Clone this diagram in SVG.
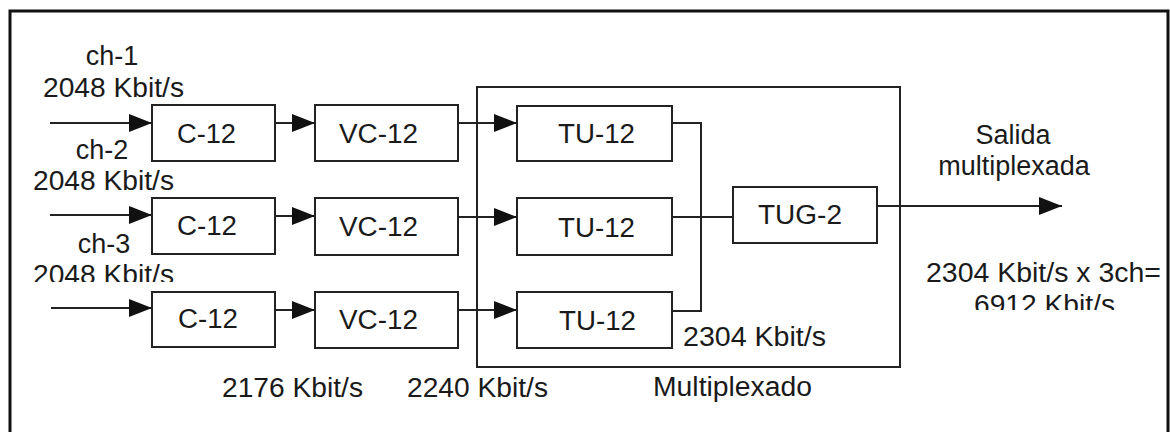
<svg xmlns="http://www.w3.org/2000/svg" width="1170" height="432" viewBox="0 0 1170 432">
<style>
.box{fill:#fff;stroke:#222;stroke-width:2}
.grp{fill:none;stroke:#222;stroke-width:2}
.ln{fill:none;stroke:#222;stroke-width:2}
.frame{fill:none;stroke:#111;stroke-width:3}
text{font-family:"Liberation Sans",Arial,sans-serif;font-size:27px;fill:#1a1a1a}
.c{text-anchor:middle}
</style>
<defs>
<marker id="ah" markerUnits="userSpaceOnUse" markerWidth="23" markerHeight="20" refX="23" refY="10" orient="auto">
<path d="M0,1 L23,10 L0,19 z" fill="#111"/>
</marker>
<clipPath id="clip3"><rect x="0" y="0" width="1170" height="282"/></clipPath>
<clipPath id="clipOut"><rect x="0" y="0" width="1170" height="310"/></clipPath>
</defs>
<rect width="1170" height="432" fill="#fff"/>
<path class="frame" d="M10,432 V11 H1168 V432"/>

<g id="multiplexado">
<rect class="grp" x="477" y="87" width="423" height="280"/>
<text x="653" y="396" textLength="159" lengthAdjust="spacingAndGlyphs">Multiplexado</text>
</g>

<g id="connectors">
<line class="ln" x1="50" y1="123" x2="152" y2="123" marker-end="url(#ah)"/>
<line class="ln" x1="50" y1="215" x2="152" y2="215" marker-end="url(#ah)"/>
<line class="ln" x1="51" y1="308" x2="152" y2="308" marker-end="url(#ah)"/>
<line class="ln" x1="275" y1="123" x2="315" y2="123" marker-end="url(#ah)"/>
<line class="ln" x1="275" y1="216" x2="315" y2="216" marker-end="url(#ah)"/>
<line class="ln" x1="275" y1="310" x2="315" y2="310" marker-end="url(#ah)"/>
<line class="ln" x1="458" y1="123" x2="517" y2="123" marker-end="url(#ah)"/>
<line class="ln" x1="458" y1="217" x2="517" y2="217" marker-end="url(#ah)"/>
<line class="ln" x1="458" y1="310" x2="517" y2="310" marker-end="url(#ah)"/>
<path class="ln" d="M672,123 H701 V311 H672"/>
<line class="ln" x1="672" y1="217" x2="733" y2="217"/>
<line class="ln" x1="877" y1="206" x2="1062" y2="206" marker-end="url(#ah)"/>
</g>

<g id="c12-1"><rect class="box" x="152" y="105" width="123" height="56"/><text x="177" y="143" textLength="59" lengthAdjust="spacingAndGlyphs">C-12</text></g>
<g id="c12-2"><rect class="box" x="152" y="198" width="123" height="56"/><text x="177" y="235" textLength="60" lengthAdjust="spacingAndGlyphs">C-12</text></g>
<g id="c12-3"><rect class="box" x="152" y="292" width="123" height="55"/><text x="178" y="328" textLength="60" lengthAdjust="spacingAndGlyphs">C-12</text></g>

<g id="vc12-1"><rect class="box" x="315" y="105" width="143" height="56"/><text x="339" y="143" textLength="79" lengthAdjust="spacingAndGlyphs">VC-12</text></g>
<g id="vc12-2"><rect class="box" x="315" y="198" width="143" height="57"/><text x="339" y="236" textLength="79" lengthAdjust="spacingAndGlyphs">VC-12</text></g>
<g id="vc12-3"><rect class="box" x="315" y="292" width="143" height="56"/><text x="339" y="329" textLength="79" lengthAdjust="spacingAndGlyphs">VC-12</text></g>

<g id="tu12-1"><rect class="box" x="517" y="106" width="155" height="55"/><text x="558" y="143" textLength="77" lengthAdjust="spacingAndGlyphs">TU-12</text></g>
<g id="tu12-2"><rect class="box" x="517" y="198" width="155" height="57"/><text x="558" y="237" textLength="77" lengthAdjust="spacingAndGlyphs">TU-12</text></g>
<g id="tu12-3"><rect class="box" x="517" y="292" width="155" height="56"/><text x="559" y="330" textLength="77" lengthAdjust="spacingAndGlyphs">TU-12</text></g>

<g id="tug2"><rect class="box" x="733" y="187" width="144" height="56"/><text x="758" y="224" textLength="84" lengthAdjust="spacingAndGlyphs">TUG-2</text></g>

<g id="labels">
<text class="c" x="112" y="65">ch-1</text>
<text x="43" y="97" textLength="141" lengthAdjust="spacingAndGlyphs">2048 Kbit/s</text>
<text class="c" x="102" y="159">ch-2</text>
<text x="33" y="190" textLength="141" lengthAdjust="spacingAndGlyphs">2048 Kbit/s</text>
<text class="c" x="104" y="253">ch-3</text>
<text x="33" y="284" textLength="141" lengthAdjust="spacingAndGlyphs" clip-path="url(#clip3)">2048 Kbit/s</text>
<text x="222" y="397" textLength="141" lengthAdjust="spacingAndGlyphs">2176 Kbit/s</text>
<text x="407" y="397" textLength="141" lengthAdjust="spacingAndGlyphs">2240 Kbit/s</text>
<text x="683" y="346" textLength="143" lengthAdjust="spacingAndGlyphs">2304 Kbit/s</text>
<text class="c" x="1013" y="144">Salida</text>
<text class="c" x="1014" y="175">multiplexada</text>
<text x="926" y="282" textLength="235" lengthAdjust="spacingAndGlyphs">2304 Kbit/s x 3ch=</text>
<text x="974" y="314" textLength="141" lengthAdjust="spacingAndGlyphs" clip-path="url(#clipOut)">6912 Kbit/s</text>
</g>
</svg>
